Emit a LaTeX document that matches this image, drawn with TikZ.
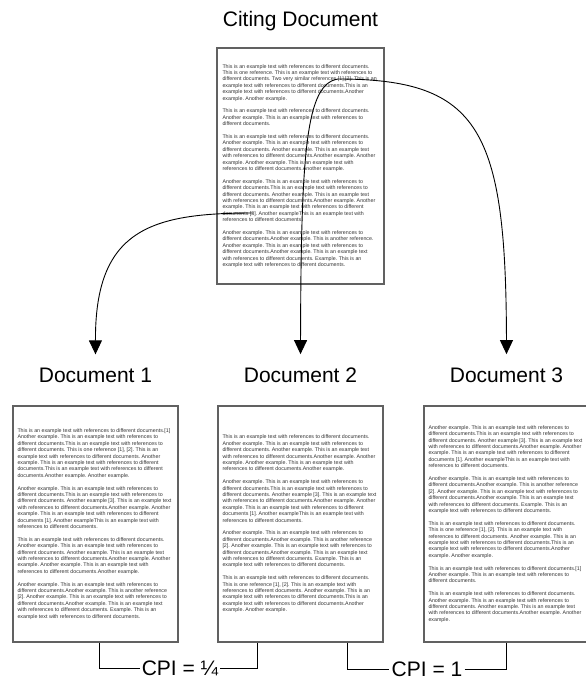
\documentclass[tikz,border=0pt]{standalone}
\usepackage{fontspec}
\setmainfont{Liberation Sans}
\usepackage{xcolor}
\usetikzlibrary{positioning,arrows.meta}

\hyphenpenalty=10000
\exhyphenpenalty=10000
\frenchspacing

% paragraphs that come back in several documents
\newcommand{\exA}{This is an example text with references to different documents. This is one reference [1], [2]. This is an example text with references to different documents. Another example. This is an example text with references to different documents.This is an example text with references to different documents.Another example. Another example.}
\newcommand{\exB}{Another example. This is an example text with references to different documents.This is an example text with references to different documents. Another example [3]. This is an example text with references to different documents.Another example. Another example. This is an example text with references to different documents [1]. Another exampleThis is an example text with references to different documents.}
\newcommand{\exC}{Another example. This is an example text with references to different documents.Another example. This is another reference [2]. Another example. This is an example text with references to different documents.Another example. This is an example text with references to different documents. Example. This is an example text with references to different documents.}
\newcommand{\exD}{This is an example text with references to different documents. Another example. This is an example text with references to different documents. Another example. This is an example text with references to different documents.Another example. Another example. Another example. This is an example text with references to different documents.Another example.}

\begin{document}
\begin{tikzpicture}
[x=1pt, y=-1pt,
    page/.style={rectangle, draw=black!62, line width=1.2pt,
    minimum width=165pt, minimum height=236pt, inner xsep=4pt,
    text width=156pt, align=flush left, text=black!80,
    font=\fontsize{5.3}{6.4}\selectfont,
    execute at begin node={\spaceskip=\fontdimen2\font\relax}},
    title/.style={font=\fontsize{21}{25}\selectfont, inner sep=3pt},
    cpi/.style={font=\fontsize{21}{25}\selectfont, inner xsep=2pt},
    cite/.style={draw=black, line width=0.9pt, -{Triangle[width=13pt,length=14pt]}},
    bracket/.style={draw=black, line width=0.9pt}
    ]
    \useasboundingbox (0,0) rectangle (586,680);

    % citing document
    \node [page, minimum width=167pt, inner xsep=5pt] (citing) at (300.5,166) {
    This is an example text with references to different documents. This is one reference. This is an example text with references to different documents. Two very similar references [1],[2]. This is an example text with references to different documents.This is an example text with references to different documents.Another example. Another example.\\[6.4pt]
    This is an example text with references to different documents. Another example. This is an example text with references to different documents.\\[6.4pt]
    \exD\\[6.4pt]
    Another example. This is an example text with references to different documents.This is an example text with references to different documents. Another example. This is an example text with references to different documents.Another example. Another example. This is an example text with references to different documents [3]. Another exampleThis is an example text with references to different documents.\\[6.4pt]
    Another example. This is an example text with references to different documents.Another example. This is another reference. Another example. This is an example text with references to different documents.Another example. This is an example text with references to different documents. Example. This is an example text with references to different documents.};
    \node [title, above=13pt of citing] (citingtitle) {Citing Document};

    % cited documents
    \node [page] (doc1) at (95.5,524) {
    This is an example text with references to different documents.[1] Another example. This is an example text with references to different documents.This is an example text with references to different documents. This is one reference [1], [2]. This is an example text with references to different documents. Another example. This is an example text with references to different documents.This is an example text with references to different documents.Another example. Another example.\\[6.4pt]
    \exB\\[6.4pt] \exD\\[6.4pt] \exC};
    \node [page] (doc2) at (300.5,524) {\exD\\[6.4pt] \exB\\[6.4pt] \exC\\[6.4pt] \exA};
    \node [page] (doc3) at (506.5,524) {\exB\\[6.4pt] \exC\\[6.4pt] \exA\\[6.4pt]
    This is an example text with references to different documents.[1] Another example. This is an example text with references to different documents.\\[6.4pt]
    This is an example text with references to different documents. Another example. This is an example text with references to different documents. Another example. This is an example text with references to different documents.Another example. Another example.};

    \node [title, above=19pt of doc1] (doc1title) {Document 1};
    \node [title, above=19pt of doc2] (doc2title) {Document 2};
    \node [title, above=19pt of doc3] (doc3title) {Document 3};

    % where the references sit in the citing text
    \coordinate (refonetwo) at (338,79);
    \coordinate (refthree) at (253,213);

    \draw [cite] (refthree) .. controls (150,213) and (95,230) .. ([yshift=11pt]doc1title.north);
    \draw [cite] (refonetwo) .. controls (306,84) and (301,150) .. ([yshift=11pt]doc2title.north);
    \draw [cite] (refonetwo) .. controls (480,79) and (506,130) .. ([yshift=11pt]doc3title.north);

    % co-citation proximity
    \node [cpi] (cpiquarter) at (180,668) {CPI = ¼};
    \node [cpi] (cpione) at (427,669) {CPI = 1};
    \draw [bracket] ([xshift=3.5pt]doc1.south) |- (cpiquarter.west);
    \draw [bracket] (cpiquarter.east) -| ([xshift=-43.5pt]doc2.south);
    \draw [bracket] ([xshift=46.5pt]doc2.south) |- (cpione.west);
    \draw [bracket] (cpione.east) -| (doc3.south);
\end{tikzpicture}
\end{document}
